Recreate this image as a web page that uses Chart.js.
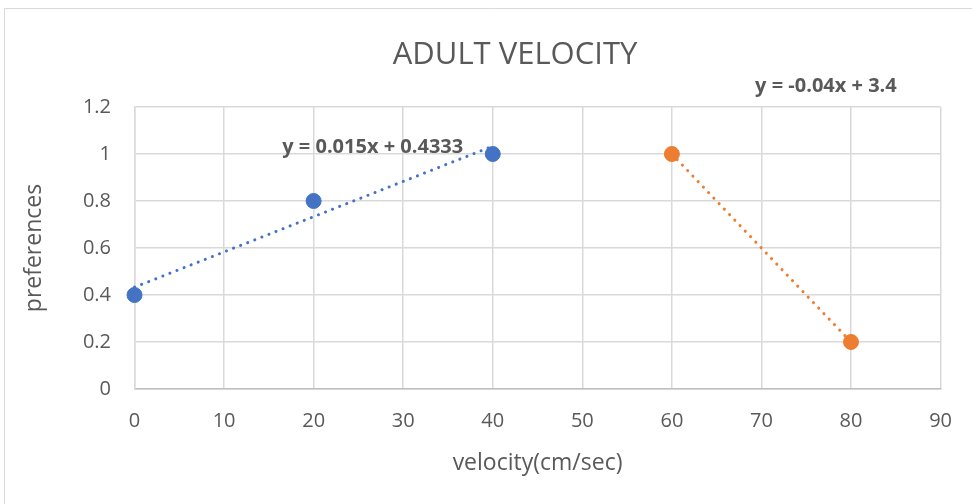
<!DOCTYPE html>
<html>
<head>
<meta charset="utf-8">
<script src="https://cdn.jsdelivr.net/npm/chart.js@4.4.1/dist/chart.umd.min.js"></script>
<style>
  html, body { margin: 0; padding: 0; background: #fff; }
  #wrap { width: 972px; height: 504px; position: relative; }
</style>
</head>
<body>
<div id="wrap"><canvas id="velocity-chart"></canvas></div>
<script>
// measured preferences for each velocity
const blueX = [0, 20, 40];
const blueY = [0.4, 0.8, 1];
const orangeX = [60, 80];
const orangeY = [1, 0.2];

// linear fits shown on the chart: [slope, intercept]
const blueFit = [0.015, 0.4333];
const orangeFit = [-0.04, 3.4];
const blueFitLabel = 'y = 0.015x + 0.4333';
const orangeFitLabel = 'y = -0.04x + 3.4';

const xTickLabels = ['0', '10', '20', '30', '40', '50', '60', '70', '80', '90'];
const yTickLabels = ['0', '0.2', '0.4', '0.6', '0.8', '1', '1.2'];

const chartTitle = 'ADULT VELOCITY';
const xTitle = 'velocity(cm/sec)';
const yTitle = 'preferences';

const BLUE = '#4472C4';
const ORANGE = '#ED7D31';
const TEXT = '#595959';
const GRID = '#d9d9d9';
const FONT = '"Open Sans", "Segoe UI", sans-serif';

function toPoints(xs, ys) {
    return xs.map((x, i) => ({ x: x, y: ys[i] }));
}

// trendline runs across the x range of its series
function fitLine(xs, fit) {
    const lo = Math.min(...xs);
    const hi = Math.max(...xs);
    return [lo, hi].map(x => ({ x: x, y: fit[0] * x + fit[1] }));
}

const decorations = {
    id: 'decorations',
    beforeDraw(chart) {
        const ctx = chart.ctx;
        ctx.save();
        ctx.fillStyle = '#fff';
        ctx.fillRect(0, 0, chart.width, chart.height);
        ctx.strokeStyle = GRID;
        ctx.lineWidth = 1;
        ctx.beginPath();
        ctx.moveTo(4.5, chart.height);
        ctx.lineTo(4.5, 8.5);
        ctx.lineTo(chart.width, 8.5);
        ctx.stroke();

        ctx.fillStyle = TEXT;
        ctx.textAlign = 'center';
        ctx.textBaseline = 'middle';
        ctx.font = '31px ' + FONT;
        ctx.fillText(chartTitle, 515, 55);
        ctx.restore();
    },
    afterDatasetsDraw(chart) {
        const ctx = chart.ctx;
        const xs = chart.scales.x;
        const ys = chart.scales.y;
        ctx.save();
        ctx.fillStyle = TEXT;
        ctx.textAlign = 'center';
        ctx.textBaseline = 'middle';
        ctx.font = 'bold 20px ' + FONT;
        ctx.fillText(blueFitLabel, xs.getPixelForValue(26.6), ys.getPixelForValue(1.03));
        ctx.fillText(orangeFitLabel, xs.getPixelForValue(77.2), ys.getPixelForValue(1.29));
        ctx.restore();
    }
};

new Chart(document.getElementById('velocity-chart'), {
    type: 'scatter',
    data: {
        datasets: [
            {
                label: 'blue',
                data: toPoints(blueX, blueY),
                backgroundColor: BLUE,
                borderColor: BLUE,
                pointRadius: 7.5,
                clip: false,
                order: 1
            },
            {
                label: 'orange',
                data: toPoints(orangeX, orangeY),
                backgroundColor: ORANGE,
                borderColor: ORANGE,
                pointRadius: 7.5,
                clip: false,
                order: 1
            },
            {
                label: 'blue fit',
                data: fitLine(blueX, blueFit),
                showLine: true,
                borderColor: BLUE,
                borderWidth: 3,
                borderDash: [0.1, 7.5],
                borderCapStyle: 'round',
                pointRadius: 0,
                clip: false,
                order: 2
            },
            {
                label: 'orange fit',
                data: fitLine(orangeX, orangeFit),
                showLine: true,
                borderColor: ORANGE,
                borderWidth: 3,
                borderDash: [0.1, 7.5],
                borderCapStyle: 'round',
                pointRadius: 0,
                clip: false,
                order: 2
            }
        ]
    },
    options: {
        responsive: true,
        maintainAspectRatio: false,
        animation: false,
        layout: {
            padding: { left: 21, top: 107, right: 30.5, bottom: 27 }
        },
        plugins: {
            legend: { display: false },
            tooltip: { enabled: false },
            title: { display: false }
        },
        scales: {
            x: {
                type: 'linear',
                min: 0,
                max: 90,
                afterFit: (scale) => { scale.height = 88; },
                ticks: {
                    stepSize: 10,
                    padding: 20,
                    color: TEXT,
                    font: { family: FONT, size: 20 },
                    callback: (value, index) => xTickLabels[index]
                },
                grid: { color: GRID, lineWidth: 1.5, drawTicks: false },
                border: { color: '#bfbfbf', width: 1.5 },
                title: {
                    display: true,
                    text: xTitle,
                    color: TEXT,
                    font: { family: FONT, size: 23 },
                    padding: 0
                }
            },
            y: {
                min: 0,
                max: 1.2,
                afterFit: (scale) => { scale.width = 113.5; },
                ticks: {
                    stepSize: 0.2,
                    padding: 23.5,
                    color: TEXT,
                    font: { family: FONT, size: 20 },
                    callback: (value, index) => yTickLabels[index]
                },
                grid: { color: GRID, lineWidth: 1.5, drawTicks: false },
                border: { color: GRID, width: 1.5 },
                title: {
                    display: true,
                    text: yTitle,
                    color: TEXT,
                    font: { family: FONT, size: 23 },
                    padding: 0
                }
            }
        }
    },
    plugins: [decorations]
});
</script>
</body>
</html>
